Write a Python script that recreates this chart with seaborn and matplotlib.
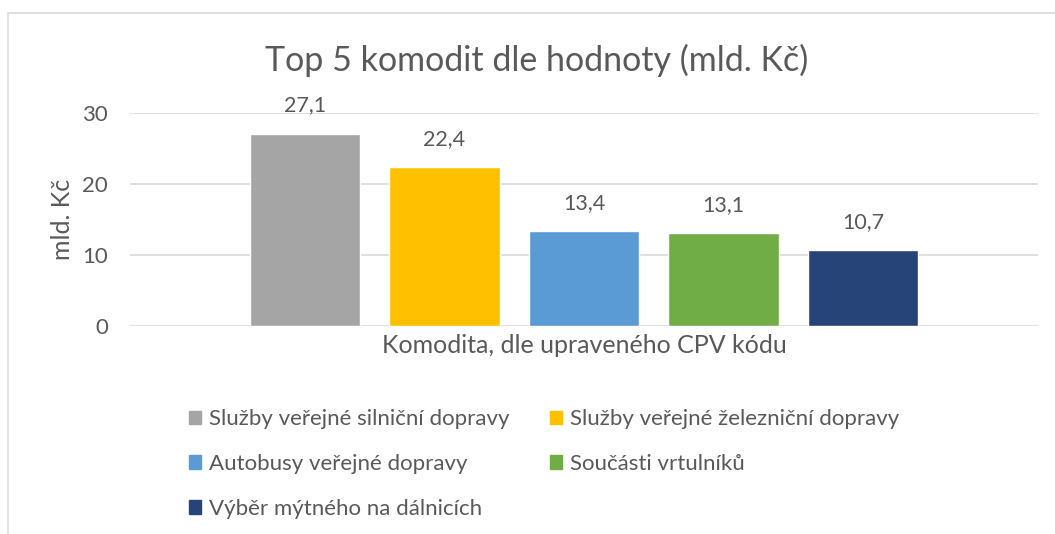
import pandas as pd
import seaborn as sns
import matplotlib.pyplot as plt
from matplotlib.patches import Rectangle

sns.set_style("white")
plt.rcParams["font.family"] = ["Lato", "DejaVu Sans"]

# data
komodity = ["Služby veřejné silniční dopravy",
            "Služby veřejné železniční dopravy",
            "Autobusy veřejné dopravy",
            "Součásti vrtulníků",
            "Výběr mýtného na dálnicích"]
hodnoty = [27.1, 22.4, 13.4, 13.1, 10.7]
barvy = ["#A5A5A5", "#FFC000", "#5B9BD5", "#70AD47", "#264478"]

df = pd.DataFrame({"kat": [""] * len(komodity), "komodita": komodity, "hodnota": hodnoty})

txt = "#595959"
grid = "#D9D9D9"

fig = plt.figure(figsize=(10.55, 5.34), dpi=100)
ax = fig.add_axes([130 / 1055, 1 - 326 / 534, 908 / 1055, 213 / 534])

sns.barplot(data=df, x="kat", y="hodnota", hue="komodita", hue_order=komodity,
            palette=barvy, width=0.768, gap=0.21, saturation=1, ax=ax,
            legend=False, errorbar=None)

for c in ax.containers:
    ax.bar_label(c, labels=[f"{v:.1f}".replace(".", ",") for v in c.datavalues],
                 padding=13, fontsize=15.5, color=txt)

ax.set_ylim(0, 30)
ax.set_yticks([0, 10, 20, 30])
ax.set_xlim(-0.5, 0.5)
ax.set_xticks([])
ax.yaxis.grid(True, color=grid, linewidth=1.2)
ax.set_axisbelow(True)
sns.despine(ax=ax, left=True, bottom=True)
ax.tick_params(axis="y", length=0, pad=16, labelsize=16, labelcolor=txt)
ax.set_ylabel("mld. Kč", fontsize=18, color=txt, labelpad=6)
ax.set_xlabel("Komodita, dle upraveného CPV kódu", fontsize=18, color=txt, labelpad=6)

fig.text(536.5 / 1055, 1 - 60 / 534, "Top 5 komodit dle hodnoty (mld. Kč)",
         ha="center", va="center", fontsize=24.5, color=txt)

# legend in Excel row order
handles = [Rectangle((0, 0), 1, 1, color=b) for b in barvy]
order = [0, 2, 4, 1, 3]
fig.legend([handles[i] for i in order], [komodity[i] for i in order],
           ncol=2, loc="upper left", bbox_to_anchor=(178 / 1055, 1 - 398 / 534),
           frameon=False, fontsize=16, labelcolor=txt, handlelength=0.55,
           handleheight=0.55, handletextpad=0.35, columnspacing=1.8,
           labelspacing=1.12, borderpad=0)

# chart frame
fig.add_artist(Rectangle((8 / 1055, -0.2), 1.2, 1.2 - 13 / 534, transform=fig.transFigure,
                         fill=False, edgecolor=grid, linewidth=1.2))

plt.savefig("out.png", dpi=100)
